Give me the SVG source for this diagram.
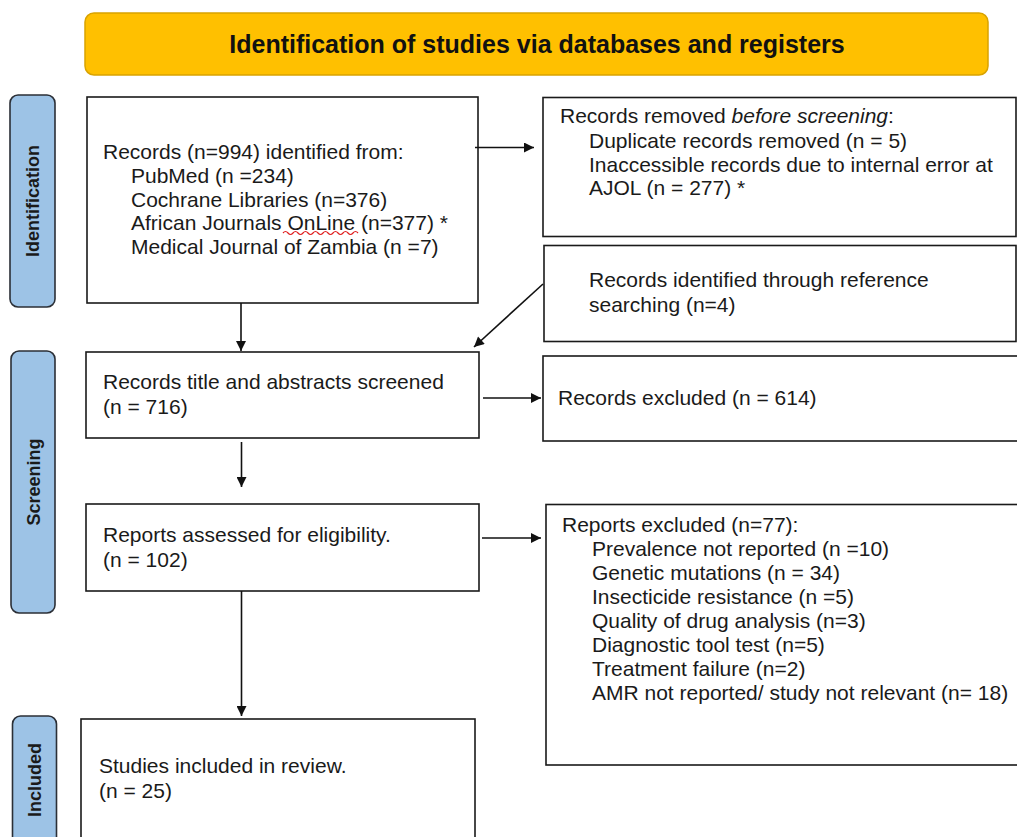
<svg xmlns="http://www.w3.org/2000/svg" width="1017" height="837" viewBox="0 0 1017 837">
  <style>
    .box { fill: #ffffff; stroke: #1a1a1a; stroke-width: 1.6; }
    .tab { fill: #9dc3e6; stroke: #2b2f36; stroke-width: 1.6; }
    .t { font-family: "Liberation Sans", Arial, sans-serif; font-size: 21px; fill: #1a1a1a; }
    .tl { font-family: "Liberation Sans", Arial, sans-serif; font-size: 18px; font-weight: bold; fill: #1a1a1a; text-anchor: middle; }
    .title { font-family: "Liberation Sans", Arial, sans-serif; font-size: 25px; font-weight: bold; fill: #111111; text-anchor: middle; }
    .conn { stroke: #111111; stroke-width: 1.6; fill: none; marker-end: url(#ah); }
  </style>
  <defs>
    <marker id="ah" viewBox="0 0 10 10" refX="10" refY="5" markerWidth="11" markerHeight="10" markerUnits="userSpaceOnUse" orient="auto">
      <path d="M0,0 L10,5 L0,10 z" fill="#111111"/>
    </marker>
  </defs>
  <rect width="1017" height="837" fill="#ffffff"/>

  <g id="banner">
    <rect x="85" y="13" width="903" height="62" rx="9" fill="#ffc000" stroke="#d9a300" stroke-width="1.5"/>
    <text class="title" x="537" y="53">Identification of studies via databases and registers</text>
  </g>

  <g id="tab-identification">
    <rect class="tab" x="10" y="95" width="45" height="212" rx="8"/>
    <text class="tl" transform="translate(39,201) rotate(-90)">Identification</text>
  </g>
  <g id="tab-screening">
    <rect class="tab" x="11" y="351" width="44" height="262" rx="8"/>
    <text class="tl" transform="translate(39.5,482) rotate(-90)">Screening</text>
  </g>
  <g id="tab-included">
    <rect class="tab" x="12.5" y="716" width="44" height="140" rx="8"/>
    <text class="tl" transform="translate(41,780) rotate(-90)">Included</text>
  </g>

  <g id="records-identified">
    <rect class="box" x="87" y="97" width="391" height="206"/>
    <text class="t" x="103" y="159">Records (n=994) identified from:</text>
    <text class="t" x="131" y="183">PubMed (n =234)</text>
    <text class="t" x="131" y="206.5">Cochrane Libraries (n=376)</text>
    <text class="t" x="131" y="230">African Journals OnLine (n=377) *</text>
    <text class="t" x="131" y="253.5">Medical Journal of Zambia (n =7)</text>
    <path d="M283,233 q2.5,-3 5,0 t5,0 t5,0 t5,0 t5,0 t5,0 t5,0 t5,0 t5,0 t5,0 t5,0 t5,0 t5,0 t5,0 t5,0" fill="none" stroke="#e02020" stroke-width="1.2"/>
  </g>

  <g id="records-removed">
    <rect class="box" x="543" y="97.5" width="473" height="139"/>
    <text class="t" x="560" y="123">Records removed <tspan font-style="italic">before screening</tspan>:</text>
    <text class="t" x="589" y="148">Duplicate records removed (n = 5)</text>
    <text class="t" x="589" y="171.5">Inaccessible records due to internal error at</text>
    <text class="t" x="589" y="195">AJOL (n = 277) *</text>
  </g>

  <g id="reference-searching">
    <rect class="box" x="544" y="245.5" width="472" height="96"/>
    <text class="t" x="589" y="286.5">Records identified through reference</text>
    <text class="t" x="589" y="311.5">searching (n=4)</text>
  </g>

  <g id="screened">
    <rect class="box" x="86" y="352" width="393" height="86"/>
    <text class="t" x="103" y="389">Records title and abstracts screened</text>
    <text class="t" x="103" y="414">(n = 716)</text>
  </g>

  <g id="records-excluded">
    <rect class="box" x="543" y="356" width="480" height="85"/>
    <text class="t" x="558" y="405">Records excluded (n = 614)</text>
  </g>

  <g id="assessed">
    <rect class="box" x="86" y="504" width="393" height="87"/>
    <text class="t" x="103" y="542">Reports assessed for eligibility.</text>
    <text class="t" x="103" y="567">(n = 102)</text>
  </g>

  <g id="reports-excluded">
    <rect class="box" x="546" y="504.5" width="477" height="260.5"/>
    <text class="t" x="562" y="532">Reports excluded (n=77):</text>
    <text class="t" x="592" y="556">Prevalence not reported (n =10)</text>
    <text class="t" x="592" y="580">Genetic mutations (n = 34)</text>
    <text class="t" x="592" y="604">Insecticide resistance (n =5)</text>
    <text class="t" x="592" y="628">Quality of drug analysis (n=3)</text>
    <text class="t" x="592" y="652">Diagnostic tool test (n=5)</text>
    <text class="t" x="592" y="676">Treatment failure (n=2)</text>
    <text class="t" x="592" y="700">AMR not reported/ study not relevant (n= 18)</text>
  </g>

  <g id="included">
    <rect class="box" x="81" y="719" width="394" height="140"/>
    <text class="t" x="99" y="773">Studies included in review.</text>
    <text class="t" x="99" y="797.5">(n = 25)</text>
  </g>

  <g id="connectors">
    <line class="conn" x1="475" y1="147.5" x2="534" y2="147.5"/>
    <line class="conn" x1="543" y1="284" x2="474" y2="347"/>
    <line class="conn" x1="241" y1="303" x2="241" y2="351"/>
    <line class="conn" x1="483" y1="398" x2="541" y2="398"/>
    <line class="conn" x1="241.5" y1="442" x2="241.5" y2="487"/>
    <line class="conn" x1="482" y1="538" x2="541" y2="538"/>
    <line class="conn" x1="241.5" y1="591" x2="241.5" y2="716"/>
  </g>
</svg>
